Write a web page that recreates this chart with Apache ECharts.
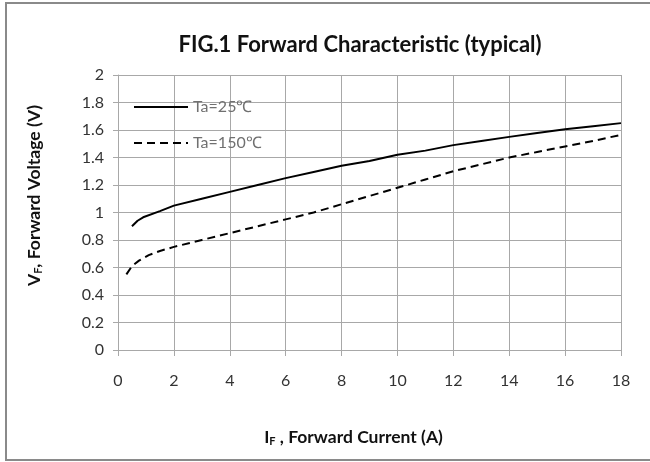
<!DOCTYPE html>
<html>
<head>
<meta charset="utf-8">
<script src="https://cdn.jsdelivr.net/npm/echarts@6/dist/echarts.min.js"></script>
<style>html,body{margin:0;padding:0;background:#fff;}#c{width:650px;height:462px;}</style>
</head>
<body>
<div id="c"></div>
<script>
var seriesNames = ['Ta=25\u2103', 'Ta=150\u2103'];
var xTicks = [0, 2, 4, 6, 8, 10, 12, 14, 16, 18];
var yTicks = [0, 0.2, 0.4, 0.6, 0.8, 1, 1.2, 1.4, 1.6, 1.8, 2];
var ta25 = [[0.5,0.9],[0.7,0.94],[0.9,0.965],[1.5,1.01],[2,1.05],[3,1.1],[4,1.15],[5,1.2],[6,1.25],[7,1.295],[8,1.34],[9,1.375],[10,1.42],[11,1.45],[12,1.49],[13,1.52],[14,1.55],[15,1.578],[16,1.605],[17,1.628],[18,1.65]];
var ta150 = [[0.3,0.55],[0.5,0.61],[0.75,0.65],[1.1,0.69],[1.5,0.72],[2,0.75],[3,0.8],[4,0.85],[5,0.9],[6,0.95],[7,1.0],[8,1.06],[9,1.12],[10,1.18],[11,1.24],[12,1.3],[13,1.35],[14,1.4],[15,1.44],[16,1.48],[17,1.52],[18,1.565]];

var FONT = 'Lato, "Open Sans", sans-serif';
var chart = echarts.init(document.getElementById('c'), null, {renderer: 'canvas'});
var gridColor = '#a8a8a8';
chart.setOption({
  backgroundColor: '#fff',
  animation: false,
  graphic: [{
    type: 'rect', silent: true,
    shape: {x: 6, y: 3, width: 700, height: 457},
    style: {fill: 'none', stroke: '#8a8a8a', lineWidth: 2}
  }],
  title: {
    text: 'FIG.1 Forward Characteristic (typical)',
    left: 355, top: 29, textAlign: 'center',
    textStyle: {fontFamily: FONT, fontWeight: 'bold', fontSize: 22, color: '#111'}
  },
  legend: {
    left: 128, top: 94, orient: 'vertical',
    itemWidth: 54, itemHeight: 14, itemGap: 20,
    itemStyle: {opacity: 0, color: 'transparent', borderWidth: 0},
    textStyle: {fontFamily: FONT, fontSize: 16, color: '#707070'},
    data: seriesNames
  },
  grid: {left: 118, right: 29, top: 75, bottom: 112, containLabel: false},
  xAxis: {
    type: 'value', min: xTicks[0], max: xTicks[xTicks.length - 1], interval: 2,
    name: '{a|I}{s|F}{a| , Forward Current (A)}',
    nameLocation: 'middle', nameGap: 78,
    nameTextStyle: {
      fontFamily: FONT, color: '#111', padding: [0, 32, 0, 0],
      rich: {
        a: {fontFamily: FONT, fontWeight: 'bold', fontSize: 17.5, color: '#111'},
        s: {fontFamily: FONT, fontWeight: 'bold', fontSize: 11, color: '#111', padding: [8, 0, 0, 0]}
      }
    },
    axisLine: {lineStyle: {color: gridColor, width: 1}},
    axisTick: {show: true, length: 6, lineStyle: {color: gridColor}},
    axisLabel: {fontFamily: FONT, fontSize: 16, color: '#333', margin: 23},
    splitLine: {show: true, lineStyle: {color: gridColor, width: 1}}
  },
  yAxis: {
    type: 'value', min: yTicks[0], max: yTicks[yTicks.length - 1], interval: 0.2,
    name: '{a|V}{s|F}{a|, Forward Voltage (V)}',
    nameLocation: 'middle', nameGap: 74,
    nameTextStyle: {
      fontFamily: FONT, color: '#111', padding: [0, 0, 0, 34],
      rich: {
        a: {fontFamily: FONT, fontWeight: 'bold', fontSize: 17.5, color: '#111'},
        s: {fontFamily: FONT, fontWeight: 'bold', fontSize: 11, color: '#111', padding: [8, 0, 0, 0]}
      }
    },
    axisLine: {show: true, lineStyle: {color: gridColor, width: 1}},
    axisTick: {show: true, length: 5, lineStyle: {color: gridColor}},
    axisLabel: {fontFamily: FONT, fontSize: 16, color: '#333', margin: 14,
      formatter: function (v) { return String(Math.round(v * 10) / 10); }},
    splitLine: {show: true, lineStyle: {color: gridColor, width: 1}}
  },
  series: [
    {name: seriesNames[0], type: 'line', data: ta25, symbol: 'none', smooth: false,
     lineStyle: {color: '#000', width: 2, type: 'solid'}, itemStyle: {color: '#000'}},
    {name: seriesNames[1], type: 'line', data: ta150, symbol: 'none', smooth: false,
     lineStyle: {color: '#000', width: 2, type: [8, 5]}, itemStyle: {color: '#000'}}
  ]
});
</script>
</body>
</html>
